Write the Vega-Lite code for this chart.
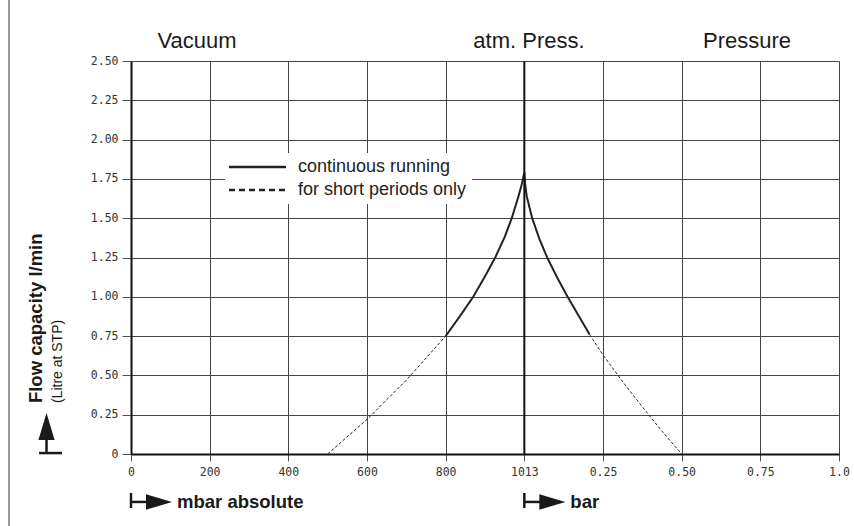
{
  "$schema": "https://vega.github.io/schema/vega-lite/v6.json",
  "width": 708,
  "height": 393,
  "autosize": "none",
  "padding": {"left": 131, "top": 61, "right": 15, "bottom": 72},
  "background": "white",
  "config": {
    "view": {"stroke": null},
    "axis": {
      "labelFont": "DejaVu Sans Mono",
      "labelFontSize": 11.5,
      "labelColor": "#333",
      "gridColor": "#444",
      "gridWidth": 1,
      "gridOpacity": 1,
      "domainColor": "#111",
      "domainWidth": 2,
      "tickColor": "#555",
      "tickWidth": 1
    },
    "legend": {
      "orient": "none",
      "legendX": 94,
      "legendY": 92,
      "fillColor": "white",
      "padding": 5,
      "symbolType": "M-2,0H9.4",
      "symbolSize": 100,
      "symbolStrokeWidth": 2.5,
      "symbolStrokeColor": "#222",
      "symbolFillColor": "transparent",
      "labelFont": "Liberation Sans",
      "labelFontSize": 18,
      "labelColor": "#222",
      "labelOffset": 50,
      "labelLimit": 500,
      "rowPadding": 5
    }
  },
  "datasets": {
    "curve": [
      {"pos": 4.0, "flow": 0.75, "mode": "continuous running", "side": "L"},
      {"pos": 4.2, "flow": 0.89, "mode": "continuous running", "side": "L"},
      {"pos": 4.35, "flow": 1.0, "mode": "continuous running", "side": "L"},
      {"pos": 4.5, "flow": 1.13, "mode": "continuous running", "side": "L"},
      {"pos": 4.63, "flow": 1.25, "mode": "continuous running", "side": "L"},
      {"pos": 4.75, "flow": 1.38, "mode": "continuous running", "side": "L"},
      {"pos": 4.84, "flow": 1.5, "mode": "continuous running", "side": "L"},
      {"pos": 4.92, "flow": 1.63, "mode": "continuous running", "side": "L"},
      {"pos": 4.97, "flow": 1.72, "mode": "continuous running", "side": "L"},
      {"pos": 5.0, "flow": 1.79, "mode": "continuous running", "side": "L"},
      {"pos": 5.0, "flow": 1.79, "mode": "continuous running", "side": "R"},
      {"pos": 5.01, "flow": 1.72, "mode": "continuous running", "side": "R"},
      {"pos": 5.03, "flow": 1.64, "mode": "continuous running", "side": "R"},
      {"pos": 5.1, "flow": 1.5, "mode": "continuous running", "side": "R"},
      {"pos": 5.19, "flow": 1.37, "mode": "continuous running", "side": "R"},
      {"pos": 5.29, "flow": 1.25, "mode": "continuous running", "side": "R"},
      {"pos": 5.42, "flow": 1.12, "mode": "continuous running", "side": "R"},
      {"pos": 5.55, "flow": 1.0, "mode": "continuous running", "side": "R"},
      {"pos": 5.69, "flow": 0.88, "mode": "continuous running", "side": "R"},
      {"pos": 5.83, "flow": 0.76, "mode": "continuous running", "side": "R"},
      {"pos": 2.5, "flow": 0.0, "mode": "for short periods only", "side": "L"},
      {"pos": 3.0, "flow": 0.22, "mode": "for short periods only", "side": "L"},
      {"pos": 3.5, "flow": 0.47, "mode": "for short periods only", "side": "L"},
      {"pos": 4.0, "flow": 0.75, "mode": "for short periods only", "side": "L"},
      {"pos": 5.83, "flow": 0.76, "mode": "for short periods only", "side": "R"},
      {"pos": 6.0, "flow": 0.63, "mode": "for short periods only", "side": "R"},
      {"pos": 6.25, "flow": 0.46, "mode": "for short periods only", "side": "R"},
      {"pos": 6.5, "flow": 0.3, "mode": "for short periods only", "side": "R"},
      {"pos": 6.75, "flow": 0.145, "mode": "for short periods only", "side": "R"},
      {"pos": 7.0, "flow": 0.0, "mode": "for short periods only", "side": "R"}
    ],
    "one": [{}]
  },
  "layer": [
    {
      "data": {"name": "curve"},
      "transform": [{"filter": "datum.mode === 'continuous running'"}],
      "mark": {"type": "line", "color": "#222", "strokeWidth": 2},
      "encoding": {
        "x": {
          "field": "pos", "type": "quantitative",
          "scale": {"domain": [0, 9], "nice": false, "zero": false},
          "axis": {
            "title": null,
            "values": [0, 1, 2, 3, 4, 5, 6, 7, 8, 9],
            "labelExpr": "['0','200','400','600','800','1013','0.25','0.50','0.75','1.0'][datum.value]",
            "tickSize": 7,
            "labelPadding": 5,
            "labelFlush": false,
            "grid": true
          }
        },
        "y": {
          "field": "flow", "type": "quantitative",
          "scale": {"domain": [0, 2.5], "nice": false, "zero": false},
          "axis": {
            "title": null,
            "values": [0, 0.25, 0.5, 0.75, 1, 1.25, 1.5, 1.75, 2, 2.25, 2.5],
            "labelExpr": "datum.value == 0 ? '0' : format(datum.value, '.2f')",
            "tickSize": 9,
            "labelPadding": 4,
            "labelFlush": false,
            "labelOverlap": false,
            "grid": true
          }
        },
        "detail": {"field": "side", "type": "nominal"},
        "strokeDash": {
          "field": "mode", "type": "nominal",
          "scale": {"domain": ["continuous running", "for short periods only"], "range": [[1, 0], [6, 4]]},
          "legend": {
            "title": null,
            "labelExpr": "datum.label + '\u00a0\u00a0\u00a0\u00a0\u00a0\u00a0'"
          }
        }
      }
    },
    {
      "data": {"name": "curve"},
      "transform": [{"filter": "datum.mode === 'for short periods only'"}],
      "mark": {"type": "line", "color": "#222", "strokeWidth": 1, "strokeDash": [3, 2]},
      "encoding": {
        "x": {"field": "pos", "type": "quantitative", "scale": {"domain": [0, 9], "nice": false, "zero": false}, "axis": {"values": [0, 1, 2, 3, 4, 5, 6, 7, 8, 9]}},
        "y": {"field": "flow", "type": "quantitative", "scale": {"domain": [0, 2.5], "nice": false, "zero": false}, "axis": {"values": [0, 0.25, 0.5, 0.75, 1, 1.25, 1.5, 1.75, 2, 2.25, 2.5]}},
        "detail": {"field": "side", "type": "nominal"}
      }
    },
    {
      "data": {"name": "one"},
      "mark": {"type": "rule", "color": "#111", "strokeWidth": 2},
      "encoding": {
        "x": {"datum": 5, "type": "quantitative", "scale": {"domain": [0, 9]}, "axis": {"values": [0, 1, 2, 3, 4, 5, 6, 7, 8, 9]}}
      }
    },
    {
      "data": {"name": "one"},
      "mark": {"type": "rule", "color": "#777", "strokeWidth": 1.5},
      "encoding": {
        "x": {"datum": -1.551, "type": "quantitative", "scale": {"domain": [0, 9]}, "axis": {"values": [0, 1, 2, 3, 4, 5, 6, 7, 8, 9]}},
        "y": {"datum": -0.46, "type": "quantitative", "scale": {"domain": [0, 2.5]}, "axis": {"values": [0, 0.25, 0.5, 0.75, 1, 1.25, 1.5, 1.75, 2, 2.25, 2.5]}},
        "y2": {"datum": 2.89}
      }
    },
    {
      "data": {"name": "one"},
      "mark": {"type": "text", "text": "Vacuum", "font": "Liberation Sans", "fontSize": 22, "align": "center", "baseline": "alphabetic", "color": "#1a1a1a"},
      "encoding": {
        "x": {"datum": 0.839, "type": "quantitative", "scale": {"domain": [0, 9]}, "axis": {"values": [0, 1, 2, 3, 4, 5, 6, 7, 8, 9]}},
        "y": {"datum": 2.583, "type": "quantitative", "scale": {"domain": [0, 2.5]}, "axis": {"values": [0, 0.25, 0.5, 0.75, 1, 1.25, 1.5, 1.75, 2, 2.25, 2.5]}}
      }
    },
    {
      "data": {"name": "one"},
      "mark": {"type": "text", "text": "atm. Press.", "font": "Liberation Sans", "fontSize": 22, "align": "center", "baseline": "alphabetic", "color": "#1a1a1a"},
      "encoding": {
        "x": {"datum": 5.059, "type": "quantitative", "scale": {"domain": [0, 9]}, "axis": {"values": [0, 1, 2, 3, 4, 5, 6, 7, 8, 9]}},
        "y": {"datum": 2.583, "type": "quantitative", "scale": {"domain": [0, 2.5]}, "axis": {"values": [0, 0.25, 0.5, 0.75, 1, 1.25, 1.5, 1.75, 2, 2.25, 2.5]}}
      }
    },
    {
      "data": {"name": "one"},
      "mark": {"type": "text", "text": "Pressure", "font": "Liberation Sans", "fontSize": 22, "align": "center", "baseline": "alphabetic", "color": "#1a1a1a"},
      "encoding": {
        "x": {"datum": 7.831, "type": "quantitative", "scale": {"domain": [0, 9]}, "axis": {"values": [0, 1, 2, 3, 4, 5, 6, 7, 8, 9]}},
        "y": {"datum": 2.583, "type": "quantitative", "scale": {"domain": [0, 2.5]}, "axis": {"values": [0, 0.25, 0.5, 0.75, 1, 1.25, 1.5, 1.75, 2, 2.25, 2.5]}}
      }
    },
    {
      "data": {"name": "one"},
      "mark": {"type": "text", "text": "Flow capacity l/min", "font": "Liberation Sans", "fontSize": 18.5, "fontWeight": "bold", "angle": 270, "align": "left", "baseline": "alphabetic", "color": "#1a1a1a"},
      "encoding": {
        "x": {"datum": -1.131, "type": "quantitative", "scale": {"domain": [0, 9]}, "axis": {"values": [0, 1, 2, 3, 4, 5, 6, 7, 8, 9]}},
        "y": {"datum": 0.324, "type": "quantitative", "scale": {"domain": [0, 2.5]}, "axis": {"values": [0, 0.25, 0.5, 0.75, 1, 1.25, 1.5, 1.75, 2, 2.25, 2.5]}}
      }
    },
    {
      "data": {"name": "one"},
      "mark": {"type": "text", "text": "(Litre at STP)", "font": "Liberation Sans", "fontSize": 14, "angle": 270, "align": "left", "baseline": "alphabetic", "color": "#1a1a1a"},
      "encoding": {
        "x": {"datum": -0.877, "type": "quantitative", "scale": {"domain": [0, 9]}, "axis": {"values": [0, 1, 2, 3, 4, 5, 6, 7, 8, 9]}},
        "y": {"datum": 0.324, "type": "quantitative", "scale": {"domain": [0, 2.5]}, "axis": {"values": [0, 0.25, 0.5, 0.75, 1, 1.25, 1.5, 1.75, 2, 2.25, 2.5]}}
      }
    },
    {
      "data": {"name": "one"},
      "mark": {"type": "rule", "color": "#1a1a1a", "strokeWidth": 2.5},
      "encoding": {
        "x": {"datum": -1.169, "type": "quantitative", "scale": {"domain": [0, 9]}, "axis": {"values": [0, 1, 2, 3, 4, 5, 6, 7, 8, 9]}},
        "x2": {"datum": -0.877},
        "y": {"datum": 0.006, "type": "quantitative", "scale": {"domain": [0, 2.5]}, "axis": {"values": [0, 0.25, 0.5, 0.75, 1, 1.25, 1.5, 1.75, 2, 2.25, 2.5]}}
      }
    },
    {
      "data": {"name": "one"},
      "mark": {"type": "rule", "color": "#1a1a1a", "strokeWidth": 2.5},
      "encoding": {
        "x": {"datum": -1.074, "type": "quantitative", "scale": {"domain": [0, 9]}, "axis": {"values": [0, 1, 2, 3, 4, 5, 6, 7, 8, 9]}},
        "y": {"datum": 0.006, "type": "quantitative", "scale": {"domain": [0, 2.5]}, "axis": {"values": [0, 0.25, 0.5, 0.75, 1, 1.25, 1.5, 1.75, 2, 2.25, 2.5]}},
        "y2": {"datum": 0.16}
      }
    },
    {
      "data": {"name": "one"},
      "mark": {"type": "point", "shape": "M-0.6,1L0,-1L0.6,1Z", "size": 729, "filled": true, "color": "#1a1a1a", "opacity": 1},
      "encoding": {
        "x": {"datum": -1.074, "type": "quantitative", "scale": {"domain": [0, 9]}, "axis": {"values": [0, 1, 2, 3, 4, 5, 6, 7, 8, 9]}},
        "y": {"datum": 0.175, "type": "quantitative", "scale": {"domain": [0, 2.5]}, "axis": {"values": [0, 0.25, 0.5, 0.75, 1, 1.25, 1.5, 1.75, 2, 2.25, 2.5]}}
      }
    },
    {
      "data": {"name": "one"},
      "mark": {"type": "rule", "color": "#1a1a1a", "strokeWidth": 2.5},
      "encoding": {
        "x": {"datum": 0, "type": "quantitative", "scale": {"domain": [0, 9]}, "axis": {"values": [0, 1, 2, 3, 4, 5, 6, 7, 8, 9]}},
        "y": {"datum": -0.248, "type": "quantitative", "scale": {"domain": [0, 2.5]}, "axis": {"values": [0, 0.25, 0.5, 0.75, 1, 1.25, 1.5, 1.75, 2, 2.25, 2.5]}},
        "y2": {"datum": -0.3435}
      }
    },
    {
      "data": {"name": "one"},
      "mark": {"type": "rule", "color": "#1a1a1a", "strokeWidth": 2.5},
      "encoding": {
        "x": {"datum": 0, "type": "quantitative", "scale": {"domain": [0, 9]}, "axis": {"values": [0, 1, 2, 3, 4, 5, 6, 7, 8, 9]}},
        "x2": {"datum": 0.25},
        "y": {"datum": -0.305, "type": "quantitative", "scale": {"domain": [0, 2.5]}, "axis": {"values": [0, 0.25, 0.5, 0.75, 1, 1.25, 1.5, 1.75, 2, 2.25, 2.5]}}
      }
    },
    {
      "data": {"name": "one"},
      "mark": {"type": "point", "shape": "M-1,-0.6L1,0L-1,0.6Z", "size": 676, "filled": true, "color": "#1a1a1a", "opacity": 1},
      "encoding": {
        "x": {"datum": 0.356, "type": "quantitative", "scale": {"domain": [0, 9]}, "axis": {"values": [0, 1, 2, 3, 4, 5, 6, 7, 8, 9]}},
        "y": {"datum": -0.305, "type": "quantitative", "scale": {"domain": [0, 2.5]}, "axis": {"values": [0, 0.25, 0.5, 0.75, 1, 1.25, 1.5, 1.75, 2, 2.25, 2.5]}}
      }
    },
    {
      "data": {"name": "one"},
      "mark": {"type": "text", "text": "mbar absolute", "font": "Liberation Sans", "fontSize": 18.5, "fontWeight": "bold", "align": "left", "baseline": "middle", "color": "#1a1a1a"},
      "encoding": {
        "x": {"datum": 0.585, "type": "quantitative", "scale": {"domain": [0, 9]}, "axis": {"values": [0, 1, 2, 3, 4, 5, 6, 7, 8, 9]}},
        "y": {"datum": -0.305, "type": "quantitative", "scale": {"domain": [0, 2.5]}, "axis": {"values": [0, 0.25, 0.5, 0.75, 1, 1.25, 1.5, 1.75, 2, 2.25, 2.5]}}
      }
    },
    {
      "data": {"name": "one"},
      "mark": {"type": "rule", "color": "#1a1a1a", "strokeWidth": 2.5},
      "encoding": {
        "x": {"datum": 5, "type": "quantitative", "scale": {"domain": [0, 9]}, "axis": {"values": [0, 1, 2, 3, 4, 5, 6, 7, 8, 9]}},
        "y": {"datum": -0.248, "type": "quantitative", "scale": {"domain": [0, 2.5]}, "axis": {"values": [0, 0.25, 0.5, 0.75, 1, 1.25, 1.5, 1.75, 2, 2.25, 2.5]}},
        "y2": {"datum": -0.3435}
      }
    },
    {
      "data": {"name": "one"},
      "mark": {"type": "rule", "color": "#1a1a1a", "strokeWidth": 2.5},
      "encoding": {
        "x": {"datum": 5, "type": "quantitative", "scale": {"domain": [0, 9]}, "axis": {"values": [0, 1, 2, 3, 4, 5, 6, 7, 8, 9]}},
        "x2": {"datum": 5.25},
        "y": {"datum": -0.305, "type": "quantitative", "scale": {"domain": [0, 2.5]}, "axis": {"values": [0, 0.25, 0.5, 0.75, 1, 1.25, 1.5, 1.75, 2, 2.25, 2.5]}}
      }
    },
    {
      "data": {"name": "one"},
      "mark": {"type": "point", "shape": "M-1,-0.6L1,0L-1,0.6Z", "size": 676, "filled": true, "color": "#1a1a1a", "opacity": 1},
      "encoding": {
        "x": {"datum": 5.356, "type": "quantitative", "scale": {"domain": [0, 9]}, "axis": {"values": [0, 1, 2, 3, 4, 5, 6, 7, 8, 9]}},
        "y": {"datum": -0.305, "type": "quantitative", "scale": {"domain": [0, 2.5]}, "axis": {"values": [0, 0.25, 0.5, 0.75, 1, 1.25, 1.5, 1.75, 2, 2.25, 2.5]}}
      }
    },
    {
      "data": {"name": "one"},
      "mark": {"type": "text", "text": "bar", "font": "Liberation Sans", "fontSize": 18.5, "fontWeight": "bold", "align": "left", "baseline": "middle", "color": "#1a1a1a"},
      "encoding": {
        "x": {"datum": 5.585, "type": "quantitative", "scale": {"domain": [0, 9]}, "axis": {"values": [0, 1, 2, 3, 4, 5, 6, 7, 8, 9]}},
        "y": {"datum": -0.305, "type": "quantitative", "scale": {"domain": [0, 2.5]}, "axis": {"values": [0, 0.25, 0.5, 0.75, 1, 1.25, 1.5, 1.75, 2, 2.25, 2.5]}}
      }
    }
  ]
}
